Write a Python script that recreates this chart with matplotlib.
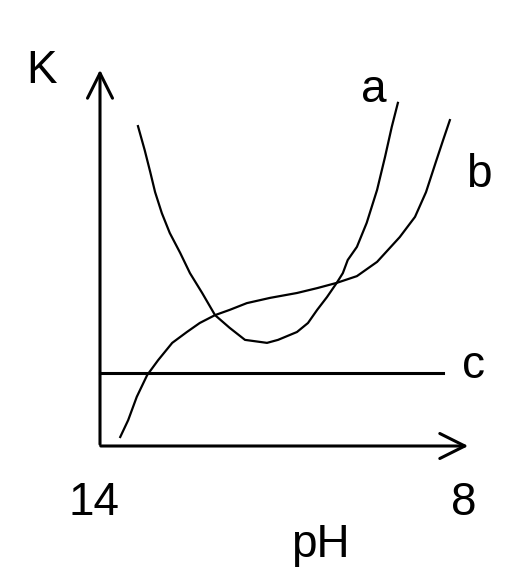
import matplotlib.pyplot as plt
from matplotlib.patches import FancyArrowPatch

plt.rcParams['font.family'] = ['Liberation Sans', 'DejaVu Sans']

# curve a: K vs pH (arbitrary units)
ph_a = [13.33, 13.22, 13.13, 13.05, 12.94, 12.81, 12.64, 12.48, 12.28,
        12.07, 11.83, 11.58, 11.22, 11.04, 10.73, 10.55, 10.40, 10.24,
        10.08, 9.98, 9.90, 9.75, 9.59, 9.42, 9.29, 9.18, 9.08]
k_a = [8.53, 7.89, 7.31, 6.77, 6.21, 5.68, 5.15, 4.61, 4.08,
       3.49, 3.15, 2.83, 2.75, 2.83, 3.04, 3.28, 3.63, 3.97,
       4.35, 4.61, 4.96, 5.31, 5.95, 6.83, 7.71, 8.51, 9.15]

# curve b
ph_b = [13.62, 13.49, 13.35, 13.18, 13.00, 12.77, 12.53, 12.32, 12.07,
        11.83, 11.55, 11.17, 10.73, 10.40, 10.08, 9.75, 9.42, 9.05,
        8.80, 8.62, 8.46, 8.34, 8.23]
k_b = [0.24, 0.69, 1.31, 1.89, 2.29, 2.75, 3.04, 3.28, 3.49,
       3.63, 3.81, 3.95, 4.08, 4.21, 4.35, 4.53, 4.91, 5.57,
       6.11, 6.77, 7.57, 8.16, 8.69]

# curve c: constant
ph_c = [13.95, 8.34]
k_c = [1.95, 1.95]

W, H = 532, 583


def px(x, y):
    # pixel position -> figure fraction
    return x / W, 1 - y / H


fig = plt.figure(figsize=(W / 100, H / 100), dpi=100)
ax = fig.add_axes([0, 0, 1, 1])
ax.set_xlim(15.586, 6.887)
ax.set_ylim(-3.653, 11.893)
ax.axis('off')

ax.plot(ph_a, k_a, color='black', lw=1.6, solid_joinstyle='round')
ax.plot(ph_b, k_b, color='black', lw=1.6, solid_joinstyle='round')
ax.plot(ph_c, k_c, color='black', lw=2.2)

# axes with arrow heads
for start, end in [((100, 447), (100, 67)), ((98, 446), (471, 446))]:
    arr = FancyArrowPatch(px(*start), px(*end), transform=fig.transFigure,
                          arrowstyle='->,head_length=18,head_width=9',
                          mutation_scale=1, lw=2.2, color='black')
    fig.patches.append(arr)

fs = 33
fig.text(*px(41, 83), 'K', fontsize=fs, ha='center', va='baseline')
fig.text(*px(94, 515), '14', fontsize=fs, ha='center', va='baseline')
fig.text(*px(464, 515), '8', fontsize=fs, ha='center', va='baseline')
fig.text(*px(320, 557), 'pH', fontsize=fs, ha='center', va='baseline')
fig.text(*px(374, 102), 'a', fontsize=fs, ha='center', va='baseline')
fig.text(*px(479, 187), 'b', fontsize=fs, ha='center', va='baseline')
fig.text(*px(474, 378), 'c', fontsize=fs, ha='center', va='baseline')

fig.savefig('out.png', dpi=100)
